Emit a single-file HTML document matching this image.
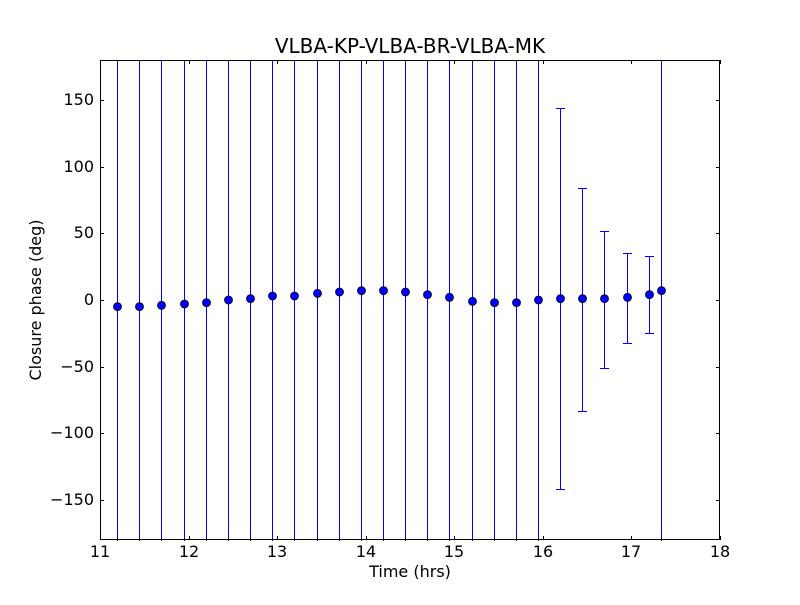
<!DOCTYPE html>
<html><head><meta charset="utf-8"><style>
body{margin:0;background:#fff}
text{font-family:"DejaVu Sans","Liberation Sans",sans-serif}
</style></head><body>
<svg width="800" height="600" viewBox="0 0 800 600" xmlns="http://www.w3.org/2000/svg">
<rect width="800" height="600" fill="#fff"/>
<g id="d" fill="#0000ff"></g>
<g id="m"></g>
<rect x="100.5" y="60.5" width="619" height="479" fill="none" stroke="#000" stroke-width="1"/>
<g fill="#000" id="ticks"></g>
<g font-size="16" fill="#000" id="lbl"></g>
<text x="410" y="53" font-size="20" text-anchor="middle">VLBA-KP-VLBA-BR-VLBA-MK</text>
<text x="410" y="577" font-size="16" text-anchor="middle">Time (hrs)</text>
<text x="0" y="0" font-size="16" text-anchor="middle" transform="translate(41,300) rotate(-90)">Closure phase (deg)</text>
</svg>
<script>
var ns="http://www.w3.org/2000/svg";
function el(p,t,a,txt){var e=document.createElementNS(ns,t);for(var k in a)e.setAttribute(k,a[k]);if(txt!==undefined)e.textContent=txt;p.appendChild(e);return e;}
function R(p,x,y,w,h,c){var a={x:x,y:y,width:w,height:h};if(c)a.fill=c;el(p,'rect',a);}
var d=document.getElementById('d'),m=document.getElementById('m'),tk=document.getElementById('ticks'),lb=document.getElementById('lbl');
var xs=[117,139,161,184,206,228,250,272,294,317,339,361,383,405,427,449,472,494,516,538,560,582,604,627,649,661];
var vs=[-5,-5,-4,-3,-2,0,1,3,3,5,6,7,7,6,4,2,-1,-2,-2,0,1,1,1,2,4,7];
var er={20:[144,-142],21:[84,-83],22:[52,-51],23:[35,-32],24:[33,-25]};
function Y(v){return 300-v*480/360;}
for(var i=0;i<xs.length;i++){
 var x=xs[i],t,b,cap=false;
 if(er[i]){t=Math.round(Y(er[i][0]));b=Math.round(Y(er[i][1]));cap=true;}else{t=60;b=540;}
 R(d,x,t,1,b-t+1,'#0000ff');
 if(cap){R(d,x-4,t,9,1,'#0000ff');R(d,x-4,b,9,1,'#0000ff');}
 el(m,'circle',{cx:x+0.5,cy:Y(vs[i]),r:4,fill:'#0000ff',stroke:'#000','stroke-width':0.8});
}
for(var h=11;h<=18;h++){var x=Math.round(100+(h-11)*620/7);
 R(tk,x,536,1,4);R(tk,x,60,1,4);
 el(lb,'text',{x:x,y:557,'text-anchor':'middle'},h);}
for(var v=-150;v<=150;v+=50){var y=Math.round(Y(v));
 R(tk,100,y,4,1);R(tk,716,y,4,1);
 el(lb,'text',{x:94,y:y+5,'text-anchor':'end'},v<0?'\u2212'+(-v):v);}
</script>
</body></html>
